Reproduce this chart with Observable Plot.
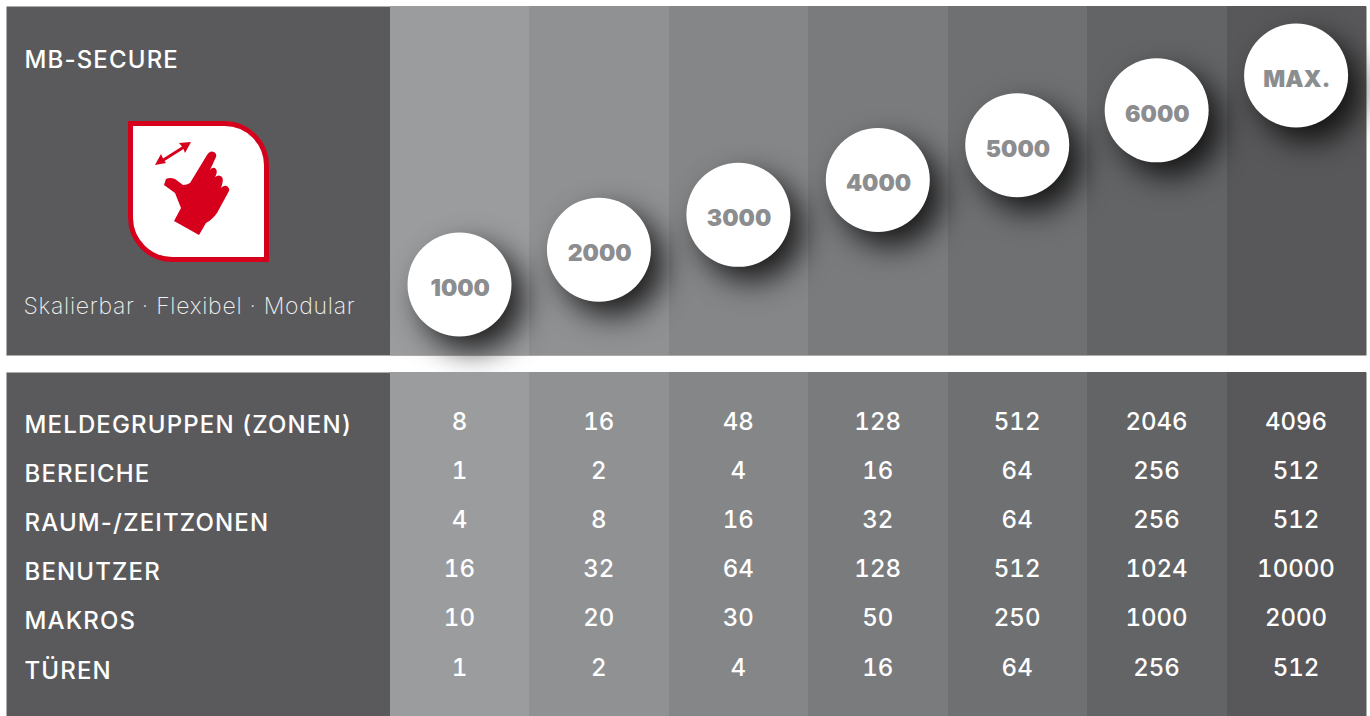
<!DOCTYPE html>
<html><head><meta charset="utf-8">
<script src="https://cdn.jsdelivr.net/npm/d3@7"></script>
<script src="https://cdn.jsdelivr.net/npm/@observablehq/plot@0.6"></script>
<style>
html,body{margin:0;padding:0;background:#fff}
svg{display:block}
.lab text{letter-spacing:1.15px}
.tag text{letter-spacing:.72px}
.num text{letter-spacing:0;font-variant-numeric:tabular-nums}
</style></head><body><div id="c"></div>
<script>
const models = ["1000","2000","3000","4000","5000","6000","MAX."];
const tiers = [1,2,3,4,5,6,7];
const shades = ["#9b9c9e","#909193","#858688","#7a7b7d","#6f7072","#636466","#58585a"];
const rowNames = ["MELDEGRUPPEN (ZONEN)","BEREICHE","RAUM-/ZEITZONEN","BENUTZER","MAKROS","TÜREN"];
const meldegruppen = [8,16,48,128,512,2046,4096];
const bereiche = [1,2,4,16,64,256,512];
const zeitzonen = [4,8,16,32,64,256,512];
const benutzer = [16,32,64,128,512,1024,10000];
const makros = [10,20,30,50,250,1000,2000];
const tueren = [1,2,4,16,64,256,512];
const rowValues = [meldegruppen,bereiche,zeitzonen,benutzer,makros,tueren];
const title = "MB-SECURE";
const tagline = "Skalierbar · Flexibel · Modular";

const FONT = "Inter, 'Noto Sans', sans-serif";
const panel = "#5a5a5c", red = "#d6001c";
const xScale = {type:"band", domain:models, range:[390,1366], padding:0, round:false, axis:null};
const colour = {type:"ordinal", domain:models, range:shades};

const icon = () => {
  const g = d3.create("svg:g");
  g.append("path").attr("fill","#fff").attr("stroke",red).attr("stroke-width",5)
    .attr("d","M130.5,123.5H224A42,42 0 0 1 266.5,166V259.5H172A42,42 0 0 1 130.5,218Z");
  g.append("path").attr("fill",red)
    .attr("d","M199,235L174,221L181,208L175,193L164,185L166,179Q170,177 175,179L183,185Q187,185 190,183L207,155Q210,150 214,152Q217,154 216,157L210,170Q213,166 216,169Q218,172 215,177Q219,174 222,177Q224,180 221,188Q225,184 228,187Q230,189 229,191L217,213Q212,220 206,223Z");
  g.append("path").attr("fill",red)
    .attr("d","M155,165L161,154L163,158.5L182,146.5L179,143L191,142L185,153L183.5,149L164.5,161L166,163Z");
  return g.node();
};

const upperPlot = Plot.plot({
  width:1370, height:372,
  marginTop:6, marginBottom:17, marginLeft:6, marginRight:4,
  style:{background:"#fff"},
  x:xScale,
  y:{domain:[1,7], range:[284,75], axis:null},
  color:colour,
  marks:[
    Plot.frame({fill:panel, stroke:null}),
    Plot.cell(models,{x:d=>d, fill:d=>d, shapeRendering:"crispEdges"}),
    Plot.text([title],{frameAnchor:"top-left", dx:18, dy:54, lineAnchor:"middle", textAnchor:"start", className:"lab",
      fill:"#fff", fontFamily:FONT, fontWeight:500, fontSize:24}),
    Plot.text([tagline],{frameAnchor:"top-left", dx:17, dy:300, lineAnchor:"middle", textAnchor:"start", className:"tag",
      fill:"#f0f0f0", fontFamily:FONT, fontWeight:200, fontSize:23}),
    icon,
    Plot.dot(models,{x:d=>d, y:(d,i)=>tiers[i], r:52, dx:-0.7, fill:"#fff", stroke:null,
      imageFilter:"drop-shadow(13px 14px 15px rgba(0,0,0,.8))"}),
    Plot.text(models,{x:d=>d, y:(d,i)=>tiers[i], text:d=>d, dy:4, fill:"#8c8d8f",
      fontFamily:FONT, fontWeight:900, fontSize:23})
  ]
});

const cells = rowNames.flatMap((r,j)=>models.map((m,i)=>({row:r, model:m, value:String(rowValues[j][i])})));

const lowerPlot = Plot.plot({
  width:1370, height:344,
  marginTop:0, marginBottom:0, marginLeft:6, marginRight:4,
  style:{background:"#fff"},
  x:xScale,
  y:{type:"point", domain:rowNames, range:[49.5,295.5], padding:0, round:false, axis:null},
  color:colour,
  marks:[
    Plot.frame({fill:panel, stroke:null}),
    Plot.cell(models,{x:d=>d, fill:d=>d, shapeRendering:"crispEdges"}),
    Plot.text(rowNames,{y:d=>d, text:d=>d, frameAnchor:"left", dx:18, dy:3, textAnchor:"start", className:"lab",
      fill:"#fff", fontFamily:FONT, fontWeight:500, fontSize:24}),
    Plot.text(cells,{x:"model", y:"row", text:"value", dx:-0.8, fill:"#fff", className:"num",
      fontFamily:FONT, fontWeight:500, fontSize:24})
  ]
});

document.getElementById("c").append(upperPlot,lowerPlot);
</script></body></html>
